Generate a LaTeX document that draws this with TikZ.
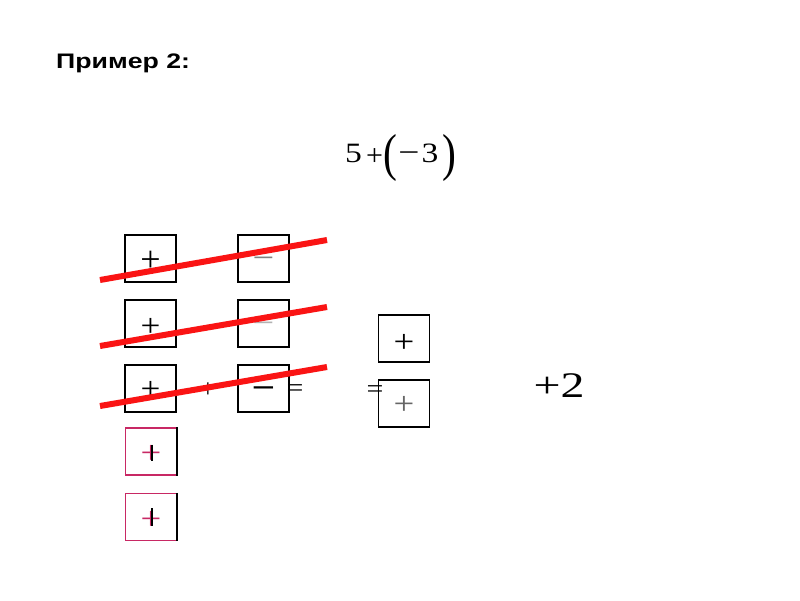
\documentclass[tikz,border=0pt]{standalone}
\usepackage{fontspec}
\setmainfont{Liberation Serif}
\newfontfamily\titlefont{Liberation Sans}
\definecolor{strike}{RGB}{250,20,20}
\definecolor{pinkbox}{RGB}{200,40,100}
\newcommand{\hstr}[2]{\scalebox{#1}[1]{#2}}
\begin{document}
\begin{tikzpicture}[x=1pt,y=-1pt,
  sq/.style={draw=black, line width=1.1pt, minimum width=51pt, minimum height=47pt, inner sep=0pt,
    font=\fontsize{32}{32}\selectfont, text height=23.5pt, text depth=0pt},
  pk/.style={sq, draw=pinkbox, text=pinkbox},
  minbox/.style={sq, text height=19.2pt},
  strikeline/.style={draw=strike, line width=6pt},
  sign/.style={inner sep=0pt, font=\fontsize{26}{26}\selectfont, text height=17.5pt, text depth=0pt},
  expr/.style={inner sep=0pt, anchor=base, font=\fontsize{28}{28}\selectfont},
  paren/.style={inner sep=0pt, anchor=base, font=\fontsize{52}{52}\selectfont}]
\useasboundingbox (0,0) rectangle (800,600);
\fill[white] (0,0) rectangle (800,600);

\node[anchor=base west, inner sep=0pt, font=\titlefont\bfseries\fontsize{21}{21}\selectfont] (title) at (56,68) {\hstr{1.27}{Пример 2:}};

% expression 5+(-3)
\node[expr] (e5) at (353.5,162) {\hstr{1.2}{5}};
\node[expr, font=\fontsize{30}{30}\selectfont] (eplus) at (374.5,165) {+};
\node[paren] (elp) at (390,170.5) {\hstr{0.8}{(}};
\node[expr, font=\fontsize{30}{30}\selectfont] (emin) at (409,162) {\hstr{1.25}{−}};
\node[expr] (e3) at (430,162) {\hstr{1.2}{3}};
\node[paren] (erp) at (449,170.5) {\hstr{0.8}{)}};

% left column
\node[sq, font=\fontsize{36}{36}\selectfont, text height=26.5pt] (p1) at (150.5,258.5) {+};
\node[sq, text height=25.5pt] (p2) at (150.5,323.5) {\hstr{1.1}{+}};
\node[sq, text height=21.5pt] (p3) at (150.5,388.5) {\hstr{1.1}{+}};
\node[pk, text height=24.5pt] (p4) at (151,451.5) {\hstr{1.15}{+}};
\node[pk, text height=25.5pt] (p5) at (151,517) {\hstr{1.15}{+}};
\draw[line width=2.4pt] (p4.north east) -- (p4.south east);
\draw[line width=2.4pt] (p5.north east) -- (p5.south east);
\draw[line width=1.4pt] ([shift={(1,-7)}]p4.center) -- ([shift={(1,9)}]p4.center);
\draw[line width=1.4pt] ([shift={(1,-9)}]p5.center) -- ([shift={(1,9)}]p5.center);

% middle column
\node[minbox, text=gray] (m1) at (263.5,258.5) {\hstr{1.2}{−}};
\node[minbox, text=gray!60] (m2) at (263.5,323.5) {\hstr{1.2}{−}};
\node[minbox, font=\bfseries\fontsize{32}{32}\selectfont] (m3) at (263.5,388.5) {\hstr{1.3}{−}};

\node[sign, text height=19pt] (plus) at (208,388) {+};
\node[sign] (eq1) at (295,387.5) {\hstr{1.15}{=}};
\node[sign] (eq2) at (375,388.5) {\hstr{1.15}{=}};

% right result
\node[sq, text height=27.5pt] (r1) at (404,338.5) {\hstr{1.15}{+}};
\node[sq, text=gray!80!black, text height=21.5pt] (r2) at (404,403.5) {\hstr{1.15}{+}};

\node[inner sep=0pt, anchor=base, font=\fontsize{36}{36}\selectfont] (res) at (559,397) {\hstr{1.33}{+2}};

% strike-through lines
\coordinate (a1) at (100,280); \coordinate (b1) at (327,240);
\coordinate (a2) at (100,346); \coordinate (b2) at (327,307);
\coordinate (a3) at (100,406); \coordinate (b3) at (327,367);
\draw[strikeline] (a1) -- (b1);
\draw[strikeline] (a2) -- (b2);
\draw[strikeline] (a3) -- (b3);
\end{tikzpicture}
\end{document}
